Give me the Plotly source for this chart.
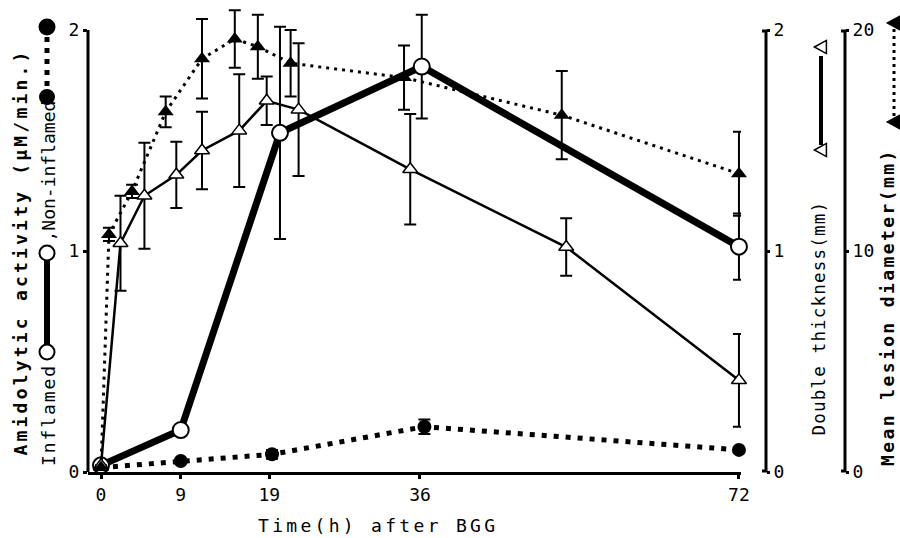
import plotly.graph_objects as go

FONT = "DejaVu Sans Mono"

# Amidolytic activity (uM/min.) of inflamed and non-inflamed tissue
infl_t = [0, 9, 20.2, 36.2, 72]
infl = [0.03, 0.19, 1.535, 1.835, 1.02]
infl_err = [0, 0, 0.48, 0.235, 0.15]

noninfl_t = [0, 9, 19.3, 36.5, 72]
noninfl = [0.02, 0.05, 0.08, 0.205, 0.10]
noninfl_err = [0, 0, 0.02, 0.033, 0]

# Double skin thickness (mm)
thick_t = [0, 2.2, 4.9, 8.5, 11.4, 15.6, 18.7, 22.3, 34.9, 52.5, 72]
thick = [0.03, 1.035, 1.25, 1.345, 1.455, 1.545, 1.68, 1.64, 1.37, 1.018, 0.415]
thick_err = [0, 0.215, 0.24, 0.15, 0.175, 0.255, 0.11, 0.30, 0.25, 0.13, 0.21]

# Mean lesion diameter (mm)
lesion_t = [0, 0.9, 3.5, 7.3, 11.4, 15.1, 17.7, 21.4, 34.2, 52.0, 72]
lesion = [0.2, 10.75, 12.7, 16.3, 18.7, 19.6, 19.25, 18.5, 17.85, 16.15, 13.5]
lesion_err = [0, 0.3, 0.3, 0.7, 1.8, 1.3, 1.45, 1.5, 1.45, 2.0, 1.9]

time_ticks = [0, 9, 19, 36, 72]

# page geometry helpers (pixel -> paper coordinates)
W, H = 900, 538
ML, MR, MT, MB = 88, 40, 8, 66
PW, PH = W - ML - MR, H - MT - MB

# value ranges leave headroom above the top tick so error bars are not clipped
Y_TOP = 2.1


def px(x):
    return (x - ML) / PW


def py(y):
    return (H - MB - y) / PH


def spaced(text, ls):
    return f'<span style="letter-spacing:{ls}px">{text}</span>'


def err(vals):
    return dict(type="data", array=vals, visible=True, color="black",
                thickness=2, width=6)


fig = go.Figure()

fig.add_trace(go.Scatter(
    x=thick_t, y=thick, yaxis="y2", mode="lines+markers",
    line=dict(color="black", width=2.5),
    marker=dict(symbol="triangle-up", size=13, color="white",
                line=dict(color="black", width=1.5)),
    error_y=err(thick_err), cliponaxis=False, showlegend=False))

fig.add_trace(go.Scatter(
    x=lesion_t, y=lesion, yaxis="y3", mode="lines+markers",
    line=dict(color="black", width=3, dash="3px,5px"),
    marker=dict(symbol="triangle-up", size=14, color="black"),
    error_y=err(lesion_err), cliponaxis=False, showlegend=False))

fig.add_trace(go.Scatter(
    x=noninfl_t, y=noninfl, mode="lines+markers",
    line=dict(color="black", width=5, dash="5px,7px"),
    marker=dict(symbol="circle", size=14, color="black"),
    error_y=err(noninfl_err), cliponaxis=False, showlegend=False))

fig.add_trace(go.Scatter(
    x=infl_t, y=infl, mode="lines+markers",
    line=dict(color="black", width=7),
    marker=dict(symbol="circle", size=16, color="white",
                line=dict(color="black", width=2)),
    error_y=err(infl_err), cliponaxis=False, showlegend=False))

axis_common = dict(showgrid=False, zeroline=False, ticks="outside",
                   tickcolor="black", tickwidth=3,
                   tickfont=dict(family=FONT, size=18, color="black"))

fig.update_layout(
    width=W, height=H, margin=dict(l=ML, r=MR, t=MT, b=MB),
    paper_bgcolor="white", plot_bgcolor="white",
    xaxis=dict(domain=[0, px(741)], range=[-1.467, 72.23],
               tickvals=time_ticks, ticklen=4, showline=True,
               linecolor="black", linewidth=3, **axis_common),
    yaxis=dict(range=[0, Y_TOP], tickvals=[0, 1, 2], ticklen=4,
               showline=False, **axis_common),
    yaxis2=dict(range=[0, Y_TOP], tickvals=[0, 1, 2], overlaying="y",
                anchor="free", position=px(766), side="right", ticklen=3,
                showline=False, **axis_common),
    yaxis3=dict(range=[0, Y_TOP * 10], tickvals=[0, 10, 20], overlaying="y",
                anchor="free", position=px(845), side="right", ticklen=3,
                showline=False, **axis_common),
)

annotations = []


def label(text, x, y, angle=-90, size=18, bold=False, xanchor="center",
          yanchor="bottom"):
    annotations.append(dict(
        text=f"<b>{text}</b>" if bold else text, x=px(x), y=py(y),
        xref="paper", yref="paper", textangle=angle, showarrow=False,
        xanchor=xanchor, yanchor=yanchor, borderpad=0,
        font=dict(family=FONT, size=size, color="black")))


label(spaced("Time(h) after BGG", 3.3), 378, 525, angle=0,
      yanchor="middle")
label(spaced("Amidolytic activity (\u03bcM/min.)", 3.2), 20, 457, bold=True)
label(spaced("Inflamed", 1.9), 48, 467)
label(",Non-inflamed", 48, 243)
label(spaced("Double thickness(mm)", 1.2), 818, 437, size=17.5)
label(spaced("Mean lesion diameter(mm)", 2.4), 887, 467, bold=True)

fig.update_layout(annotations=annotations)

shapes = []


def seg(x0, y0, x1, y1, w, dash="solid"):
    shapes.append(dict(type="line", xref="paper", yref="paper",
                       x0=px(x0), y0=py(y0), x1=px(x1), y1=py(y1),
                       line=dict(color="black", width=w, dash=dash)))


def circ(cx, cy, r, fill):
    shapes.append(dict(type="circle", xref="paper", yref="paper",
                       x0=px(cx - r), x1=px(cx + r), y0=py(cy + r),
                       y1=py(cy - r), fillcolor=fill,
                       line=dict(color="black", width=2)))


def tri_left(cx, cy, s, fill):
    pts = [(cx - s * 0.55, cy), (cx + s * 0.45, cy - s * 0.55),
           (cx + s * 0.45, cy + s * 0.55)]
    path = "M " + " L ".join(f"{px(a)},{py(b)}" for a, b in pts) + " Z"
    shapes.append(dict(type="path", xref="paper", yref="paper", path=path,
                       fillcolor=fill, line=dict(color="black", width=1.5)))


# vertical axis lines, spanning only the labelled tick range
for xa, yref, top in ((ML, "y", 2), (766, "y2", 2), (845, "y3", 20)):
    shapes.append(dict(type="line", xref="paper", yref=yref,
                       x0=px(xa), x1=px(xa), y0=0, y1=top,
                       line=dict(color="black", width=3)))

# key for inflamed / non-inflamed
seg(47, 352, 47, 253, 6)
circ(47, 352, 7.5, "white")
circ(47, 253, 7.5, "white")
seg(47, 97, 47, 27, 5, "5px,6px")
circ(47, 97, 7, "black")
circ(47, 27, 7.5, "black")

# key for double thickness
seg(821, 145, 821, 56, 4)
tri_left(821, 150, 12, "white")
tri_left(821, 47, 12, "white")

# key for lesion diameter
seg(894, 116, 894, 28, 3, "3px,4px")
tri_left(894, 122, 12, "black")
tri_left(894, 23, 12, "black")

# bracket feet on the right-hand axes
for xa in (766, 845):
    seg(xa + 1, 31, xa - 4, 31, 3)
    seg(xa + 1, 471, xa - 4, 471, 3)

fig.update_layout(shapes=shapes)

fig.write_html("out.html")
